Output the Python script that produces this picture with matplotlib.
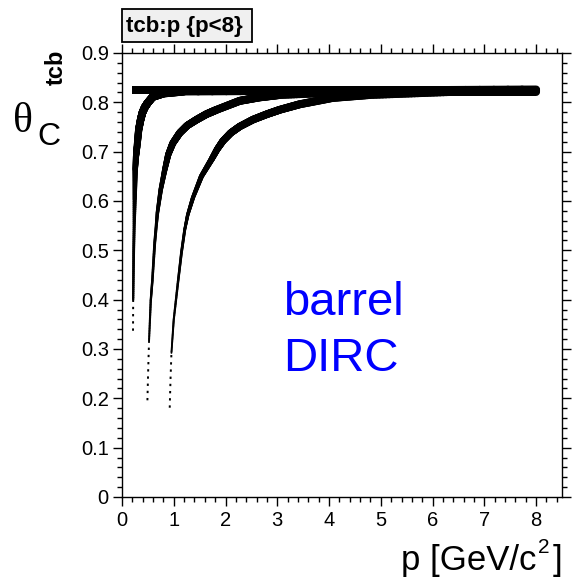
import numpy as np
import matplotlib
matplotlib.use("Agg")
import matplotlib.pyplot as plt
from matplotlib.collections import LineCollection
from matplotlib.patches import Rectangle
from matplotlib.ticker import MultipleLocator

# ---------------- data ----------------
title = "tcb:p {p<8}"
x_label_main = "p [GeV/c"
x_label_sup = "2"
x_label_end = "]"
y_label = "tcb"
annotation_lines = ["barrel", "DIRC"]

x_ticks = [0, 1, 2, 3, 4, 5, 6, 7, 8]
y_ticks = [0, 0.1, 0.2, 0.3, 0.4, 0.5, 0.6, 0.7, 0.8, 0.9]

# electron band (flat at saturation angle)
p_e = [0.19, 8.0]
th_e = [0.826, 0.826]

# pion-like curve
p_pi = [0.213, 0.216, 0.226, 0.245, 0.255, 0.27, 0.29, 0.323, 0.36, 0.394, 0.44, 0.497, 0.593, 0.80, 1.2, 8.0]
th_pi = [0.337, 0.40, 0.501, 0.603, 0.663, 0.690, 0.710, 0.745, 0.765, 0.779, 0.790, 0.799, 0.811, 0.818, 0.822, 0.826]

# kaon curve
p_k = [0.491, 0.506, 0.522, 0.555, 0.587, 0.632, 0.684, 0.748, 0.825, 0.893, 0.98, 1.115, 1.26, 1.443,
       1.63, 1.830, 2.274, 2.65, 3.05, 4.40, 8.0]
th_k = [0.196, 0.258, 0.315, 0.397, 0.440, 0.515, 0.576, 0.623, 0.663, 0.694, 0.717, 0.738, 0.753, 0.765,
        0.776, 0.785, 0.803, 0.810, 0.815, 0.821, 0.823]

# proton curve
p_p = [0.922, 0.937, 0.955, 0.999, 1.082, 1.148, 1.212, 1.270, 1.372, 1.534, 1.728, 1.84, 1.952, 2.10, 2.274,
       2.531, 2.80, 3.05, 3.43, 4.07, 4.79, 6.33, 8.0]
th_p = [0.181, 0.238, 0.292, 0.359, 0.436, 0.495, 0.542, 0.572, 0.607, 0.650, 0.684, 0.705, 0.722, 0.738, 0.751,
        0.765, 0.776, 0.785, 0.796, 0.809, 0.815, 0.821, 0.821]

# angle below which each curve is only sparse dots
dot_limit = {"pi": 0.40, "k": 0.315, "p": 0.292}

# ---------------- figure ----------------
W, H = 572, 581
fig = plt.figure(figsize=(W / 100, H / 100), dpi=100)
ax = fig.add_axes([122 / W, 1 - 497 / H, (562 - 122) / W, (497 - 53) / H])
ax.set_xlim(0, 8.5)
ax.set_ylim(0, 0.9)

PX = 0.72  # points per pixel


def densify(px, py, n=25):
    xs, ys = [], []
    for i in range(len(px) - 1):
        t = np.linspace(0, 1, n, endpoint=False)
        xs.append(px[i] + (px[i + 1] - px[i]) * t)
        ys.append(py[i] + (py[i + 1] - py[i]) * t)
    xs.append([px[-1]])
    ys.append([py[-1]])
    return np.concatenate(xs), np.concatenate(ys)


def draw_curve(px, py, lim):
    px = np.asarray(px, float)
    py = np.asarray(py, float)
    x, y = densify(px, py)
    low = y <= lim
    ax.plot(x[low], y[low], color="black", lw=1.4, ls=(0, (1.2, 2.5)), solid_capstyle="butt")
    xh, yh = x[~low], y[~low]
    xh = np.concatenate([[x[low][-1]], xh])
    yh = np.concatenate([[y[low][-1]], yh])
    pts = np.column_stack([xh, yh]).reshape(-1, 1, 2)
    segs = np.concatenate([pts[:-1], pts[1:]], axis=1)
    mid = 0.5 * (yh[:-1] + yh[1:])
    lw = np.interp(mid, [0.3, 0.55, 0.65, 0.72, 0.80], [1.8, 3.0, 5.0, 7.0, 8.0]) * PX
    lc = LineCollection(segs, colors="black", linewidths=lw, capstyle="round", joinstyle="round")
    ax.add_collection(lc)


ax.plot(p_e, th_e, color="black", lw=8 * PX, solid_capstyle="butt")
draw_curve(p_pi, th_pi, dot_limit["pi"])
draw_curve(p_k, th_k, dot_limit["k"])
draw_curve(p_p, th_p, dot_limit["p"])

# ---------------- axes styling ----------------
font = "Liberation Sans"
ax.set_xticks(x_ticks)
ax.set_yticks(y_ticks)
ax.set_xticklabels([str(v) for v in x_ticks], fontfamily=font, fontsize=14.5)
ax.set_yticklabels(["0" if v == 0 else f"{v:.1f}" for v in y_ticks], fontfamily=font, fontsize=14.5)
ax.xaxis.set_minor_locator(MultipleLocator(0.2))
ax.yaxis.set_minor_locator(MultipleLocator(0.02))
ax.tick_params(which="both", direction="out", top=True, right=True, width=1.0, color="black")
ax.tick_params(which="major", length=6.5)
ax.tick_params(which="minor", length=3.6)
ax.tick_params(axis="y", which="major", pad=3)
ax.tick_params(axis="x", which="major", pad=3.5)
for s in ax.spines.values():
    s.set_linewidth(1.0)

# annotation (two lines, left aligned)
fig.text(283 / W, 1 - 315 / H, annotation_lines[0], color="#0000ff", fontfamily=font,
         fontsize=34, ha="left", va="baseline")
fig.text(283 / W, 1 - 370.7 / H, annotation_lines[1], color="#0000ff", fontfamily=font,
         fontsize=34, ha="left", va="baseline")

# title box
fig.patches.append(Rectangle((122 / W, 1 - 42 / H), (252 - 122) / W, (42 - 9) / H,
                             transform=fig.transFigure, facecolor="#f0f0f0",
                             edgecolor="black", lw=1.3))
fig.text(126 / W, 1 - 32 / H, title, fontfamily=font, fontweight="bold", fontsize=16,
         ha="left", va="baseline")

# axis labels
fig.text(56 / W, 1 - 67 / H, y_label, rotation=90, fontfamily=font, fontweight="bold",
         fontsize=17, ha="center", va="center")
fig.text(13 / W, 1 - 132 / H, "θ", fontfamily="Liberation Serif", fontsize=30,
         ha="left", va="baseline")
fig.text(37 / W, 1 - 145 / H, "C", fontfamily=font, fontsize=23, ha="left", va="baseline")

# x label built from pieces so the superscript sits like the reference
renderer = fig.canvas.get_renderer()
t_end = fig.text(562 / W, 1 - 570 / H, x_label_end, fontfamily=font, fontsize=25,
                 ha="right", va="baseline")
bb_end = t_end.get_window_extent(renderer)
t_sup = fig.text((bb_end.x0 - 3) / W, 1 - 553 / H, x_label_sup, fontfamily=font, fontsize=15,
                 ha="right", va="baseline")
bb_sup = t_sup.get_window_extent(renderer)
fig.text((bb_sup.x0 - 1) / W, 1 - 570 / H, x_label_main, fontfamily=font, fontsize=25,
         ha="right", va="baseline")

fig.savefig("out.png", dpi=100)
